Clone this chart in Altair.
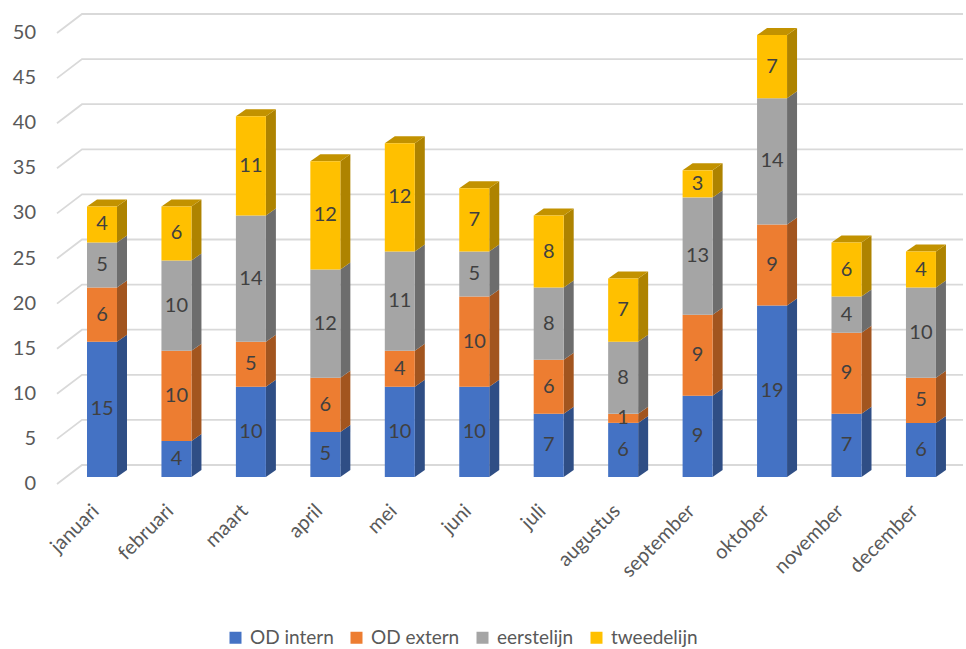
import altair as alt
import pandas as pd

# ---------------- data ----------------
months = ["januari", "februari", "maart", "april", "mei", "juni", "juli",
          "augustus", "september", "oktober", "november", "december"]
series = ["OD intern", "OD extern", "eerstelijn", "tweedelijn"]
od_intern = [15, 4, 10, 5, 10, 10, 7, 6, 9, 19, 7, 6]
od_extern = [6, 10, 5, 6, 4, 10, 6, 1, 9, 9, 9, 5]
eerstelijn = [5, 10, 14, 12, 11, 5, 8, 8, 13, 14, 4, 10]
tweedelijn = [4, 6, 11, 12, 12, 7, 8, 7, 3, 7, 6, 4]
y_ticks = [0, 5, 10, 15, 20, 25, 30, 35, 40, 45, 50]

# ---------------- styles ----------------
front_colors = ["#4472C4", "#ED7D31", "#A5A5A5", "#FFC000"]
side_colors = ["#2F4E85", "#A2551F", "#6D6D6D", "#AE8300"]
top_color = "#C29200"
grid_color = "#D9D9D9"
text_color = "#595959"
label_color = "#404040"
FONT = "Lato"

# ---------------- layout (pixel geometry -> data units) ----------------
W, H = 966, 649
X0_PX, STEP_PX = 102.0, 74.45      # centre of first category, category step
Y0_PX, UNIT_PX = 477.0, 9.02       # bar front-face baseline, px per unit


def px_x(px):
    return (px - X0_PX) / STEP_PX


def px_v(px):
    return px / UNIT_PX


x_dom = [px_x(0), px_x(W)]
y_dom = [(Y0_PX - H) / UNIT_PX, Y0_PX / UNIT_PX]
HW = 15 / STEP_PX          # half width of front face
DX = 10 / STEP_PX          # depth offset x
DY = px_v(7)               # depth offset y
FLOOR = px_v(7)            # floor front edge below bar front
BACK = px_v(12)            # back wall above bar front

xs = alt.Scale(domain=x_dom, nice=False, zero=False)
ys = alt.Scale(domain=y_dom, nice=False, zero=False)


def X(f, **kw):
    return alt.X(f, type="quantitative", scale=xs, axis=None, **kw)


def Y(f, **kw):
    return alt.Y(f, type="quantitative", scale=ys, axis=None, **kw)


# ---------------- tables ----------------
vals = [od_intern, od_extern, eerstelijn, tweedelijn]
seg_rows, side_rows, top_rows = [], [], []
for i, m in enumerate(months):
    acc = 0
    for s, name in enumerate(series):
        v = vals[s][i]
        start, end = acc, acc + v
        acc = end
        seg = f"{i}-{s}"
        seg_rows.append(dict(month=m, series=name, sidx=s, xc=i, xl=i - HW, xr=i + HW,
                             start=start, end=end, mid=(start + end) / 2, val=v))
        side_rows.append(dict(seg=seg, x=i + HW, top=end, bot=start, col=side_colors[s]))
        side_rows.append(dict(seg=seg, x=i + HW + DX, top=end + DY, bot=start + DY,
                              col=side_colors[s]))
    top_rows.append(dict(month=m, y=acc, xl=i - HW, xr=i + HW))
    top_rows.append(dict(month=m, y=acc + DY, xl=i - HW + DX, xr=i + HW + DX))

seg_df = pd.DataFrame(seg_rows)
side_df = pd.DataFrame(side_rows)
top_df = pd.DataFrame(top_rows)

grid_rows = []
for v in y_ticks:
    grid_rows.append(dict(tick=v, o=0, x=px_x(57), y=v - FLOOR))
    grid_rows.append(dict(tick=v, o=1, x=px_x(82), y=v + BACK))
    grid_rows.append(dict(tick=v, o=2, x=px_x(963), y=v + BACK))
grid_df = pd.DataFrame(grid_rows)

ylab_df = pd.DataFrame(dict(v=y_ticks, x=[px_x(36)] * len(y_ticks),
                            y=[t - FLOOR for t in y_ticks], lab=[str(t) for t in y_ticks]))
xlab_df = pd.DataFrame(dict(month=months,
                            x=[i - 6 / STEP_PX for i in range(len(months))],
                            y=[(Y0_PX - 508) / UNIT_PX] * len(months)))

# ---------------- layers ----------------
grid = alt.Chart(grid_df).mark_line(color=grid_color, strokeWidth=1.8).encode(
    x=X("x"), y=Y("y"), detail="tick:N", order="o:Q")

fronts = alt.Chart(seg_df).mark_rect(strokeWidth=0).encode(
    x=X("xl"), x2="xr", y=Y("start"), y2="end",
    color=alt.Color("series:N",
                    scale=alt.Scale(domain=series, range=front_colors),
                    sort=series,
                    legend=alt.Legend(orient="none", legendX=226, legendY=628,
                                      direction="horizontal", title=None,
                                      symbolType="square", symbolSize=144,
                                      symbolStrokeWidth=0, symbolOpacity=1,
                                      labelFont=FONT, labelFontSize=19,
                                      labelColor=text_color, columnPadding=13,
                                      labelOffset=5, padding=0)))

sides = alt.Chart(side_df).mark_area(opacity=1).encode(
    x=X("x"), y=Y("top"), y2="bot", detail="seg:N",
    color=alt.Color("col:N", scale=None))

tops = alt.Chart(top_df).mark_area(orient="horizontal", color=top_color, opacity=1).encode(
    y=Y("y"), x=X("xl"), x2="xr", detail="month:N")

seg_labels = alt.Chart(seg_df).mark_text(font=FONT, fontSize=20, color=label_color,
                                         baseline="middle", align="center").encode(
    x=X("xc"), y=Y("mid"), text="val:Q")

y_labels = alt.Chart(ylab_df).mark_text(font=FONT, fontSize=20, color=text_color,
                                        align="right", baseline="middle").encode(
    x=X("x"), y=Y("y"), text="lab:N")

x_labels = alt.Chart(xlab_df).mark_text(font=FONT, fontSize=20, color=text_color,
                                        align="right", baseline="middle", angle=315).encode(
    x=X("x"), y=Y("y"), text="month:N")

chart = alt.layer(grid, sides, tops, fronts, seg_labels, y_labels, x_labels).properties(
    width=W, height=H, padding=0, autosize=alt.AutoSizeParams(type="none"),
    background="white"
).configure_view(stroke=None)

chart.save("out.html", embed_options={"renderer": "svg", "actions": False})
